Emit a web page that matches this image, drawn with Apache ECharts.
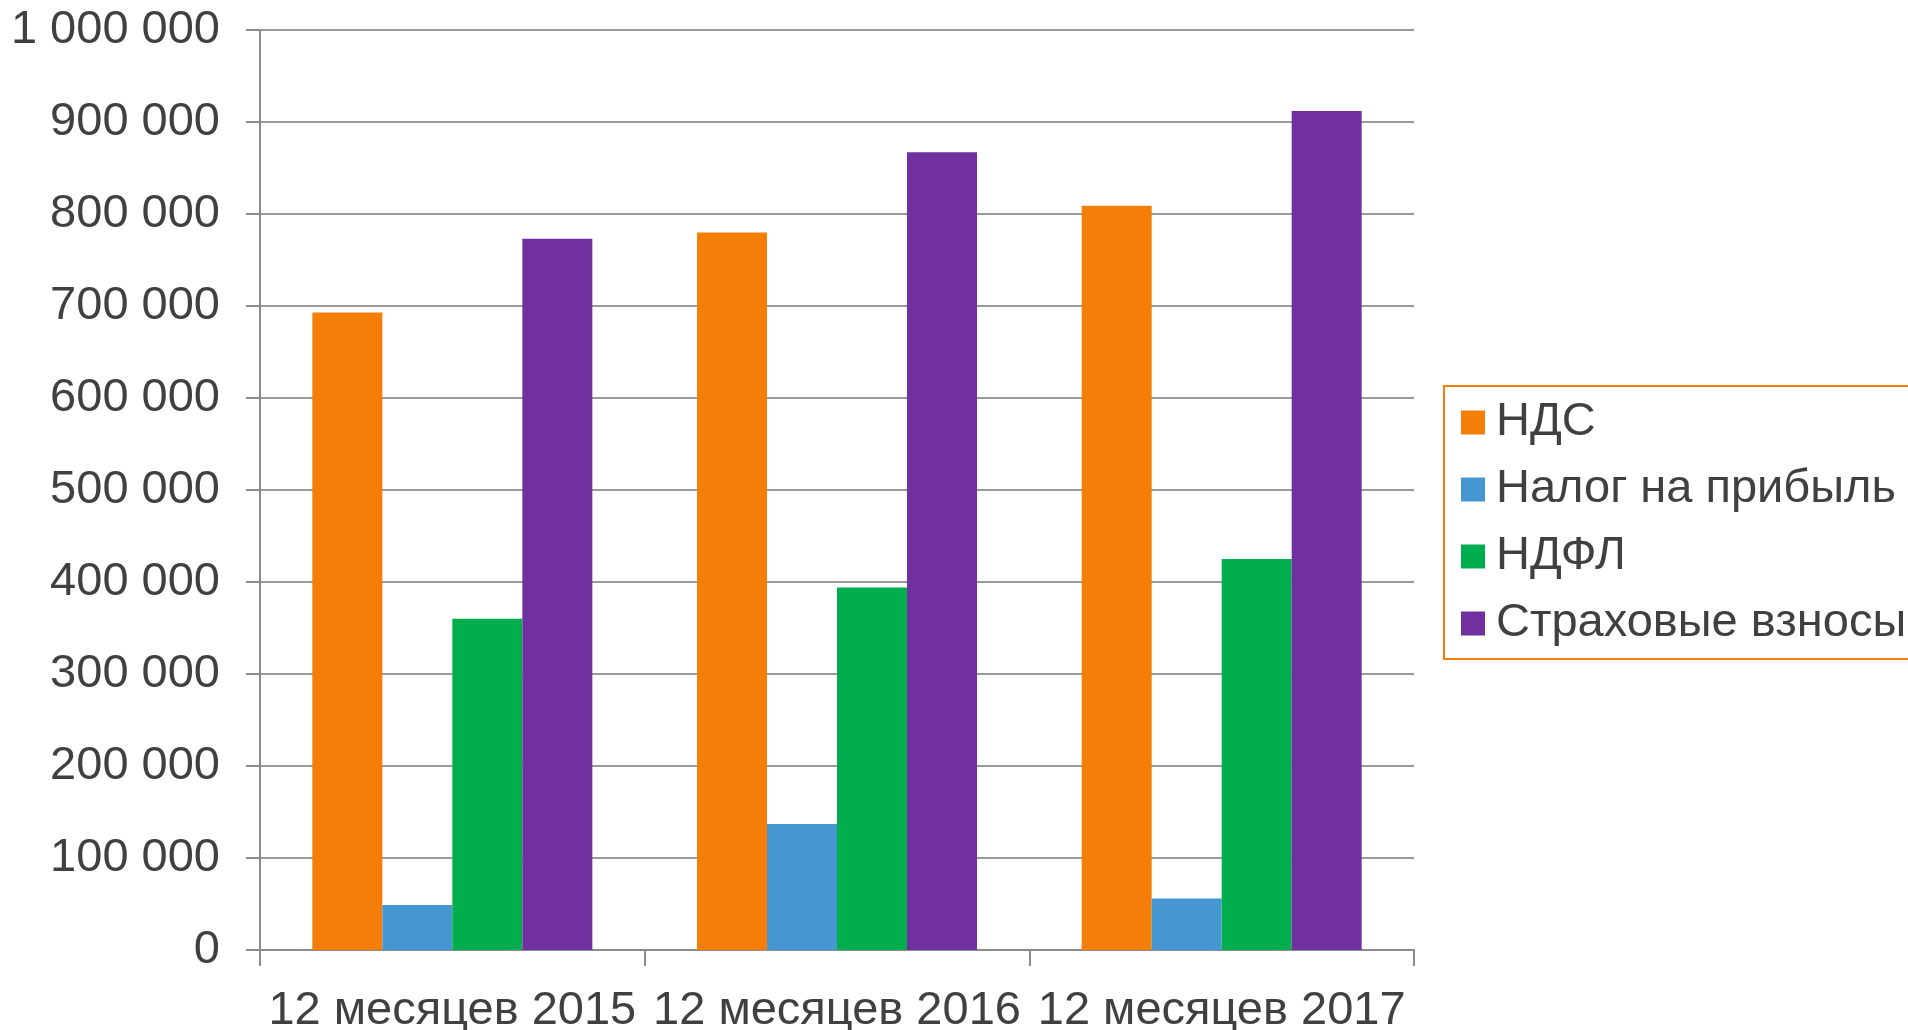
<!DOCTYPE html>
<html>
<head>
<meta charset="utf-8">
<script src="https://cdn.jsdelivr.net/npm/echarts@6/dist/echarts.min.js"></script>
<style>
  html, body { margin: 0; padding: 0; background: #fff; }
  #chart { width: 1908px; height: 1030px; }
</style>
</head>
<body>
<div id="chart"></div>
<script>
// Data
const categories = ['12 месяцев 2015', '12 месяцев 2016', '12 месяцев 2017'];
const seriesNames = ['НДС', 'Налог на прибыль', 'НДФЛ', 'Страховые взносы'];
const nds = [693000, 780000, 809000];
const profitTax = [49000, 137000, 56000];
const ndfl = [360000, 394000, 425000];
const insurance = [773000, 867000, 912000];
const seriesColors = ['#F47E07', '#4696D2', '#00AE4E', '#7030A0'];

const chart = echarts.init(document.getElementById('chart'));

const textColor = '#404040';
const lineColor = '#8C8C8C';
const font = 'Liberation Sans, Arial, sans-serif';

// space-separated thousands, like "1 000 000"
function fmt(v) {
    return String(v).replace(/\B(?=(\d{3})+(?!\d))/g, ' ');
}

const values = [nds, profitTax, ndfl, insurance];

chart.setOption({
    animation: false,
    grid: { left: 260, right: 494, top: 30, bottom: 80, outerBoundsMode: 'none' },
    legend: {
        orient: 'vertical',
        left: 1444,
        top: 386,
        padding: [13, 30, 12, 17],
        borderColor: '#F47E07',
        borderWidth: 2,
        itemWidth: 24,
        itemHeight: 24,
        itemGap: 20,
        icon: 'rect',
        textStyle: { color: textColor, fontSize: 47, fontFamily: font, padding: [0, 0, 0, 6] },
        data: seriesNames
    },
    xAxis: {
        type: 'category',
        data: categories,
        axisLine: { lineStyle: { color: lineColor, width: 2 } },
        axisTick: { show: true, length: 16, lineStyle: { color: lineColor, width: 2 } },
        axisLabel: { color: textColor, fontSize: 47, fontFamily: font, margin: 38, interval: 0 },
        splitLine: { show: false }
    },
    yAxis: {
        type: 'value',
        min: 0,
        max: 1000000,
        interval: 100000,
        axisLine: { show: true, lineStyle: { color: lineColor, width: 2 } },
        axisTick: { show: true, length: 14, lineStyle: { color: lineColor, width: 2 } },
        axisLabel: { color: textColor, fontSize: 47, fontFamily: font, margin: 40, formatter: fmt },
        splitLine: { lineStyle: { color: '#9A9A9A', width: 2 } }
    },
    series: seriesNames.map((name, i) => ({
        name: name,
        type: 'bar',
        data: values[i],
        barWidth: 70,
        barGap: '0%',
        itemStyle: { color: seriesColors[i] }
    }))
});
</script>
</body>
</html>
